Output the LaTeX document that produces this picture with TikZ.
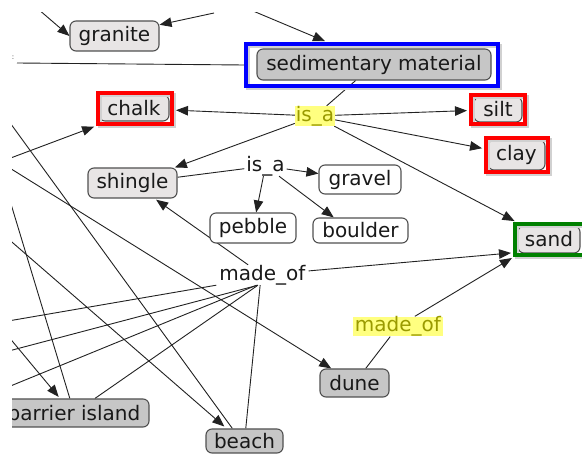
\documentclass[tikz,border=0pt]{standalone}
\usepackage{fontspec}
\setmainfont{DejaVu Sans}
\usetikzlibrary{arrows.meta}
\pgfdeclarelayer{paper}
\pgfdeclarelayer{edges}
\pgfsetlayers{paper,edges,main}

\definecolor{nodeline}{HTML}{505050}
\definecolor{lightfill}{HTML}{E8E5E5}
\definecolor{darkfill}{HTML}{C6C6C6}
\definecolor{hlfill}{HTML}{FFFF80}
\definecolor{hltext}{HTML}{9A9A00}
\definecolor{edgecol}{HTML}{222222}
\definecolor{frameblue}{HTML}{0000FF}
\definecolor{framered}{HTML}{FF0000}
\definecolor{framegreen}{HTML}{008000}

\tikzset{
  lbl/.style={font=\fontsize{20}{22}\selectfont},
  concept/.style={lbl, draw=nodeline, line width=1.1pt, rounded corners=6pt,
    inner sep=0pt, text=black!90},
  light/.style={concept, fill=lightfill},
  dark/.style={concept, fill=darkfill},
  plain/.style={concept, fill=white},
  phrase/.style={lbl, inner sep=0pt, text=black!90},
  hlphrase/.style={phrase, fill=hlfill, text=hltext},
  hlframe/.style={draw, line width=4pt, inner sep=0pt,
    preaction={draw=black!18, line width=4pt,
      transform canvas={xshift=2pt, yshift=-2pt}}},
  link/.style={draw=edgecol, line width=0.9pt},
  arr/.style={link, -{Triangle[length=12pt,width=9.5pt]}},
  farr/.style={arr, shorten >=2pt},
}

\begin{document}
\begin{tikzpicture}[x=1pt, y=-1pt]
  \useasboundingbox (0,0) rectangle (582,454);
  \begin{pgfonlayer}{paper}
    \fill[white] (0,0) rectangle (582,454);
  \end{pgfonlayer}

  \begin{scope}
  \clip (12,13) rectangle (582,454);
  % concepts
  \node[light, minimum width=89pt, minimum height=30pt] (granite) at (114.5,36) {granite};
  \node[dark, minimum width=234pt, minimum height=31pt] (sedmat) at (374,64.5) {sedimentary material};
  \node[light, minimum width=70pt, minimum height=26pt] (chalk) at (134,108) {chalk};
  \node[light, minimum width=48pt, minimum height=25pt] (silt) at (498,109.5) {silt};
  \node[light, minimum width=57pt, minimum height=30pt] (clay) at (516.5,155) {clay};
  \node[light, minimum width=89pt, minimum height=30pt] (shingle) at (132.5,183) {shingle};
  \node[plain, minimum width=82pt, minimum height=29pt] (gravel) at (360,179.5) {gravel};
  \node[plain, minimum width=86pt, minimum height=30pt] (pebble) at (253,228) {pebble};
  \node[plain, minimum width=95pt, minimum height=25pt] (boulder) at (360.5,230.5) {boulder};
  \node[light, minimum width=62pt, minimum height=27pt] (sand) at (549,239.5) {sand};
  \node[dark, minimum width=69pt, minimum height=28pt] (dune) at (354.5,383) {dune};
  \node[dark, minimum width=150pt, minimum height=28pt] (barrier) at (74,413) {barrier island};
  \node[dark, minimum width=77pt, minimum height=24pt] (beach) at (244.5,441) {beach};

  % linking phrases
  \node[hlphrase, minimum width=40pt, minimum height=18pt] (isaA) at (315,116) {is\_a};
  \node[phrase, minimum width=42pt, minimum height=20pt] (isaB) at (265.5,166) {is\_a};
  \node[phrase, minimum width=92pt, minimum height=20pt] (madeA) at (262.5,275) {made\_of};
  \node[hlphrase, minimum width=90pt, minimum height=17pt] (madeB) at (398,326.5) {made\_of};
  \node[font=\fontsize{7}{8}\selectfont, text=black!70, inner sep=0pt] (colonmark) at (13,58) {:};

  % highlight frames
  \node[hlframe, draw=frameblue, minimum width=252pt, minimum height=42pt] (sedframe) at (372,65) {};
  \node[hlframe, draw=framered, minimum width=74pt, minimum height=31pt] (chalkframe) at (135,108.5) {};
  \node[hlframe, draw=framered, minimum width=54pt, minimum height=29pt] (siltframe) at (498,109.5) {};
  \node[hlframe, draw=framered, minimum width=62pt, minimum height=34pt] (clayframe) at (517,155) {};
  \node[hlframe, draw=framegreen, minimum width=69pt, minimum height=31pt] (sandframe) at (549.5,239.5) {};
  \end{scope}

  % loose ends of links that continue beyond the view
  \coordinate (topA) at (31,3);
  \coordinate (topB) at (214,13);
  \coordinate (topC) at (234,3);
  \coordinate (leftSed) at (17,63);
  \coordinate (leftChalk) at (0,162);
  \coordinate (leftBeachA) at (0,109);
  \coordinate (leftDune) at (-7,157.6);
  \coordinate (leftBeachB) at (0,231.7);
  \coordinate (leftBarrA) at (6,187.5);
  \coordinate (leftBarrB) at (0,326.4);
  \coordinate (leftMadeA) at (0,322.4);
  \coordinate (leftMadeB) at (0,353.3);
  \coordinate (leftMadeC) at (0,390.3);

  \begin{pgfonlayer}{edges}
    \clip (12,13) rectangle (582,454);
    % outside links
    \draw[arr] (topA) -- (granite.west);
    \draw[arr] (topB) -- (granite.14);
    \draw[farr] (topC) -- (sedframe.153);
    \draw[link] (leftSed) -- (sedframe.west);
    \draw[farr] (leftChalk) -- (chalkframe.south west);
    \draw[link] (leftBeachA) -- (beach.134);
    \draw[arr, shorten >=3pt] (leftBeachB) -- (beach.145);
    \draw[arr] (leftDune) -- (dune);
    \draw[link] (leftBarrA) -- (barrier.106);
    \draw[arr, shorten >=2pt] (leftBarrB) -- (barrier.134);
    \draw[link] (leftMadeA) -- (madeA.south west);
    \draw[link] (leftMadeB) -- (madeA.246);
    \draw[link] (leftMadeC) -- (madeA.240);

    % sedimentary material is_a ...
    \draw[link] (sedmat) -- (isaA);
    \draw[farr] (isaA) -- (chalkframe);
    \draw[farr] (isaA) -- (siltframe);
    \draw[farr] (isaA) -- (clayframe);
    \draw[arr] (isaA) -- (shingle);
    \draw[farr] (isaA) -- (sandframe);

    % shingle is_a ...
    \draw[link] (shingle) -- (isaB);
    \draw[arr] (isaB) -- (gravel);
    \draw[arr] (isaB) -- (pebble);
    \draw[arr] (isaB) -- (boulder.154);

    % ... made_of ...
    \draw[arr, shorten >=2pt] (madeA) -- (shingle);
    \draw[farr] (madeA) -- (sandframe.200);
    \draw[link] (barrier) -- (madeA.246);
    \draw[link] (beach) -- (madeA.257);
    \draw[link] (dune) -- (madeB);
    \draw[farr] (madeB) -- (sandframe.206);
  \end{pgfonlayer}
\end{tikzpicture}
\end{document}
